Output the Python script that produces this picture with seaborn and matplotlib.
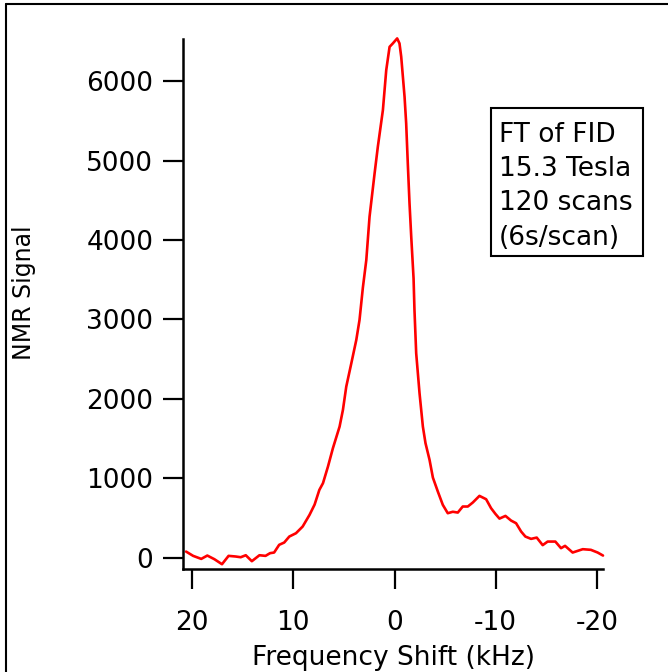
import matplotlib
matplotlib.use("Agg")
import matplotlib.pyplot as plt
import seaborn as sns
import pandas as pd
from matplotlib.lines import Line2D
from matplotlib.patches import Rectangle

# frequency shift (kHz) and NMR signal
freq = [20.6, 19.9, 19.1, 18.5, 17.8, 17.05, 16.4, 15.7, 15.2, 14.7, 14.1, 13.35,
        12.75, 12.3, 11.9, 11.4, 10.9, 10.4, 9.74, 9.08, 8.4, 7.9, 7.43, 7.07,
        6.58, 6.09, 5.43, 5.1, 4.77, 4.27, 3.78, 3.46, 3.13, 2.79, 2.47, 1.97,
        1.65, 1.15, 0.82, 0.49, 0.17, -0.26, -0.49, -0.66, -0.99, -1.15, -1.31,
        -1.48, -1.65, -1.88, -1.97, -2.14, -2.47, -2.80, -3.06, -3.46, -3.79,
        -4.28, -4.77, -5.26, -5.76, -6.25, -6.74, -7.24, -7.73, -8.39, -9.05,
        -9.54, -9.97, -10.37, -10.96, -11.52, -12.01, -12.51, -12.93, -13.49,
        -14.05, -14.64, -15.13, -15.89, -16.45, -16.85, -17.6, -18.6, -19.4,
        -20.07, -20.6]
signal = [79, 25, -13, 29, -17, -80, 25, 17, 8, 33, -42, 33,
          25, 59, 67, 164, 193, 268, 310, 394, 541, 670, 855, 940,
          1148, 1380, 1652, 1862, 2155, 2449, 2742, 2994, 3400, 3748, 4293, 4839,
          5174, 5635, 6138, 6431, 6474, 6537, 6474, 6306, 5803, 5468, 4965,
          4462, 4042, 3518, 3119, 2575, 2072, 1652, 1443, 1233, 1010,
          834, 667, 562, 580, 570, 646, 646, 696, 780, 738,
          625, 553, 494, 528, 469, 436, 331, 268, 239,
          255, 160, 205, 205, 122, 151, 67, 109, 101,
          67, 29]

xticks = [20, 10, 0, -10, -20]
yticks = [0, 1000, 2000, 3000, 4000, 5000, 6000]
note = "FT of FID\n15.3 Tesla\n120 scans\n(6s/scan)"

sns.set_style("ticks")
plt.rcParams['font.family'] = ['DejaVu Sans']
plt.rcParams['text.color'] = 'black'
plt.rcParams['axes.labelcolor'] = 'black'

df = pd.DataFrame({"freq": freq, "signal": signal})

fig = plt.figure(figsize=(6.68, 6.72), dpi=100)
ax = fig.add_axes([0.274, 0.1533, 0.6287, 0.7887])
sns.lineplot(data=df, x="freq", y="signal", sort=False, color="red", lw=1.9, ax=ax)
ax.lines[0].set_clip_on(False)

ax.set_xlim(20.9, -20.6)
ax.set_ylim(-140, 6530)
ax.set_xticks(xticks)
ax.set_yticks(yticks)
ax.set_xticklabels([str(t) for t in xticks])
ax.tick_params(axis="both", direction="out", length=14.4, width=1.6, labelsize=19, colors="black")
ax.tick_params(axis="x", pad=15)
ax.tick_params(axis="y", pad=7)
for s in ["top", "right"]:
    ax.spines[s].set_visible(False)
for s in ["left", "bottom"]:
    ax.spines[s].set_linewidth(1.8)
    ax.spines[s].set_color("black")

ax.set_xlabel("Frequency Shift (kHz)", fontsize=19, color="black")
ax.set_ylabel("NMR Signal", fontsize=17, color="black")
ax.xaxis.set_label_coords(0.5, -0.143)
ax.yaxis.set_label_coords(-0.35, 0.521)

# annotation box
ax.add_patch(Rectangle((0.7333, 0.5906), 0.3619, 0.2792, transform=ax.transAxes,
                       fc="white", ec="black", lw=1.5, clip_on=False, zorder=3))
ax.text(0.752, 0.8434, note, transform=ax.transAxes, fontsize=19, va="top", ha="left",
        linespacing=1.41, color="black", zorder=4)

# frame round the page (only top and left edge are visible in the crop)
fig.add_artist(Line2D([0.009, 1.0], [0.994, 0.994], transform=fig.transFigure, color="black", lw=1.5))
fig.add_artist(Line2D([0.009, 0.009], [0.0, 0.994], transform=fig.transFigure, color="black", lw=1.5))

fig.savefig("out.png", dpi=100)
